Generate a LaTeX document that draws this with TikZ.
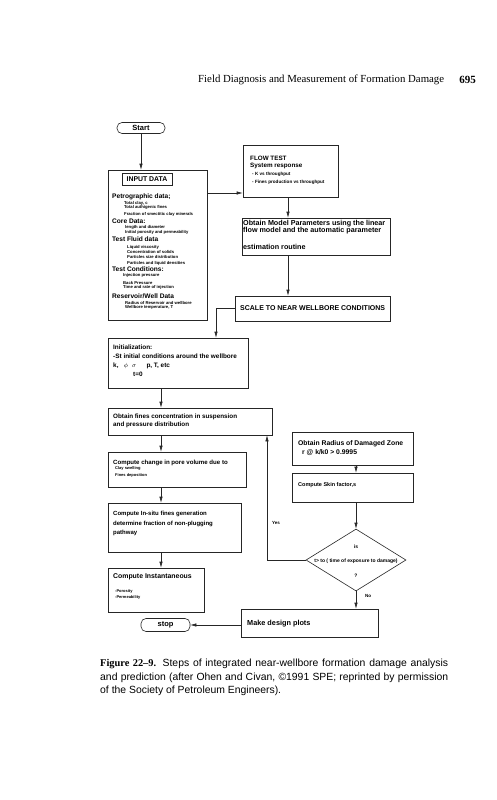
\documentclass[tikz,border=0pt]{standalone}
\usepackage{fontspec}
\setmainfont{Liberation Serif}
\setsansfont{Liberation Sans}
\usetikzlibrary{arrows.meta,shapes.geometric}
\newcommand{\fsz}[2]{\fontsize{#1}{#2}\selectfont\lineskiplimit=-10pt\relax}
\tikzset{
  flowbox/.style={draw=black!85, rectangle, line width=0.6pt, inner sep=0pt},
  termbox/.style={draw=black!85, rectangle, rounded corners=5pt, line width=0.6pt, inner sep=0pt, font=\sffamily\bfseries\fsz{7.5}{9}},
  decision/.style={draw=black!85, diamond, line width=0.6pt, inner sep=0pt},
  boxtext/.style={anchor=west, inner sep=0pt, align=left},
  headtext/.style={boxtext, font=\sffamily\bfseries\fsz{6.6}{8}},
  smalltext/.style={boxtext, font=\sffamily\bfseries\fsz{4.2}{#1}},
  smalltext/.default=4.6,
  flowarrow/.style={-{Latex[length=6pt,width=3.4pt]}, line width=0.6pt, draw=black!85}
}

\begin{document}
\begin{tikzpicture}[x=1pt, y=-1pt]
  \path[fill=white] (0,0) rectangle (496,800);
  \useasboundingbox (0,0) rectangle (496,800);

  % page header
  \node[anchor=west, inner sep=0pt, font=\fsz{10.8}{13}] (header) at (198,80) {Field Diagnosis and Measurement of Formation Damage};
  \node[anchor=east, inner sep=0pt, font=\bfseries\fsz{11}{13}] (pageno) at (476,80) {695};

  % boxes
  \node[termbox, minimum width=48pt, minimum height=11pt] (start) at (141,128) {Start};
  \node[flowbox, minimum width=99pt, minimum height=150pt] (inbox) at (157.5,245) {};
  \node[flowbox, minimum width=50pt, minimum height=12pt, font=\sffamily\bfseries\fsz{6.9}{8}] (inlabel) at (147,179) {INPUT DATA};
  \node[flowbox, minimum width=95pt, minimum height=52pt] (flow) at (290.5,171) {};
  \node[flowbox, minimum width=148pt, minimum height=37pt] (model) at (316,236.5) {};
  \node[flowbox, minimum width=155pt, minimum height=25pt] (scale) at (312.5,308.5) {};
  \node[flowbox, minimum width=140pt, minimum height=50pt] (init) at (178,363) {};
  \node[flowbox, minimum width=164pt, minimum height=27pt] (fines) at (190,421.5) {};
  \node[flowbox, minimum width=138pt, minimum height=35pt] (pore) at (177,469.5) {};
  \node[flowbox, minimum width=133pt, minimum height=49pt] (insitu) at (174.5,527.5) {};
  \node[flowbox, minimum width=96pt, minimum height=44pt] (instant) at (156,590) {};
  \node[termbox, minimum width=49pt, minimum height=13pt] (stop) at (165.5,625) {stop};
  \node[flowbox, minimum width=137pt, minimum height=28pt] (design) at (309.5,623) {};
  \node[flowbox, minimum width=121pt, minimum height=33pt] (radius) at (352.5,448.5) {};
  \node[flowbox, minimum width=121pt, minimum height=29pt] (skin) at (352.5,487.5) {};
  \node[decision, minimum width=100pt, minimum height=62pt] (check) at (356,560) {};

  % input data list
  \node[headtext] (petro) at (112,197.3) {Petrographic data;};
  \node[smalltext=4] (petroitems) at (124,209) {Total clay, c\\Total authigenic fines\\[3.6pt]Fraction of smectitic clay minerals};
  \node[headtext] (core) at (112,221.3) {Core Data:};
  \node[smalltext=5] (coreitems) at (125,229.7) {length and diameter\\Initial porosity and permeability};
  \node[headtext] (fluid) at (112,239.3) {Test Fluid data};
  \node[smalltext=5.3] (fluiditems) at (127,255.2) {Liquid viscosity\\Concentration of solids\\Particles size distribution\\Particles and liquid densities};
  \node[headtext] (cond) at (112,268.8) {Test Conditions:};
  \node[smalltext=4] (conditems) at (123,281.1) {Injection pressure\\[4.2pt]Back Pressure\\Time and rate of injection};
  \node[headtext] (reservoir) at (112,296.3) {Reservoir/Well Data};
  \node[smalltext=4] (resitems) at (125,305.5) {Radius of Reservoir and wellbore\\Wellbore temperature, T};

  % box texts
  \node[boxtext, font=\sffamily\bfseries\fsz{6.3}{7.5}] (flowhead) at (250,162.7) {FLOW TEST\\System response};
  \node[boxtext, font=\sffamily\bfseries\fsz{4.6}{7.8}] (flowitems) at (252,178) {- K vs throughput\\- Fines production vs throughput};
  \node[boxtext, font=\sffamily\bfseries\fsz{7.2}{7.3}] (modeltext) at (243,227.2) {Obtain Model Parameters using the linear\\flow model and the automatic parameter};
  \node[boxtext, font=\sffamily\bfseries\fsz{7.2}{8}] (modelend) at (243,247) {estimation routine};
  \node[boxtext, font=\sffamily\bfseries\fsz{7}{8}] (scaletext) at (240,308.5) {SCALE TO NEAR WELLBORE CONDITIONS};
  \node[boxtext, font=\sffamily\bfseries\fsz{6.4}{9}] (inittext) at (113,361) {Initialization:\\-St initial conditions around the wellbore\\k,\hspace{5pt}$\phi$\hspace{4pt}$\sigma$\hspace{10pt}p, T, etc\\\hspace*{20pt}t=0};
  \node[boxtext, font=\sffamily\bfseries\fsz{6.3}{7.5}] (finestext) at (113,420.7) {Obtain fines concentration in suspension\\and pressure distribution};
  \node[boxtext, font=\sffamily\bfseries\fsz{6.1}{7}] (poretext) at (113,463) {Compute change in pore volume due to};
  \node[boxtext, font=\sffamily\bfseries\fsz{4}{7.5}] (poreitems) at (115,472.2) {Clay swelling\\Fines deposition};
  \node[boxtext, font=\sffamily\bfseries\fsz{6}{9.5}] (insitutext) at (113,523.5) {Compute In-situ fines generation\\determine fraction of non-plugging\\pathway};
  \node[boxtext, font=\sffamily\bfseries\fsz{6.9}{8}] (instanttext) at (113,577) {Compute Instantaneous};
  \node[boxtext, font=\sffamily\bfseries\fsz{4}{6}] (instantitems) at (115,594) {-Porosity\\-Permeability};
  \node[boxtext, font=\sffamily\bfseries\fsz{7.3}{8}] (designtext) at (247,623.5) {Make design plots};
  \node[boxtext, font=\sffamily\bfseries\fsz{6.8}{9}] (radiustext) at (298,448.5) {Obtain Radius of Damaged Zone\\\hspace*{4pt}r @ k/k0 > 0.9995};
  \node[boxtext, font=\sffamily\bfseries\fsz{5.5}{7}] (skintext) at (298,485) {Compute Skin factor,s};
  \node[inner sep=0pt, font=\sffamily\bfseries\fsz{5}{6}] (checkis) at (356,547) {is};
  \node[inner sep=0pt, font=\sffamily\bfseries\fsz{5}{6}] (checktext) at (356,561) {t> to ( time of exposure to damage)};
  \node[inner sep=0pt, font=\sffamily\bfseries\fsz{5}{6}] (checkmark) at (356,576) {?};
  \node[boxtext, font=\sffamily\bfseries\fsz{4.5}{6}] (yes) at (272,523) {Yes};
  \node[boxtext, font=\sffamily\bfseries\fsz{4.5}{6}] (no) at (365,596) {No};

  % arrow columns
  \coordinate (lcol) at (161,0);
  \coordinate (jcol) at (216,0);
  \coordinate (ycol) at (267,0);
  \coordinate (mcol) at (288,0);
  \coordinate (flowin) at (243,193);

  % connectors
  \draw[flowarrow] (start.south) -- (start.south |- inbox.north);
  \draw[flowarrow] (flowin -| inbox.east) -- (flowin -| flow.west);
  \draw[flowarrow] (flow.south -| mcol) -- (model.north -| mcol);
  \draw[flowarrow] (model.south -| mcol) -- (scale.north -| mcol);
  \draw[flowarrow] (scale.west) -| (init.north -| jcol);
  \draw[flowarrow] (init.south -| lcol) -- (fines.north -| lcol);
  \draw[flowarrow] (fines.south -| lcol) -- (pore.north -| lcol);
  \draw[flowarrow] (pore.south -| lcol) -- (insitu.north -| lcol);
  \draw[flowarrow] (insitu.south -| lcol) -- (instant.north -| lcol);
  \draw[flowarrow] (radius.south -| check) -- (skin.north -| check);
  \draw[flowarrow] (skin.south -| check) -- (check.north);
  \draw[flowarrow] (check.south) -- (design.north -| check);
  \draw[flowarrow] (design.west |- stop.east) -- (stop.east);
  \draw[flowarrow] (check.west) -| (fines.south -| ycol);

  % caption
  \node[anchor=north west, inner sep=0pt, text width=348pt, align=justify, font=\sffamily\fsz{10.4}{13.5}] (caption) at (100,659) {{\rmfamily\bfseries Figure 22--9.} Steps of integrated near-wellbore formation damage analysis\linebreak and prediction (after Ohen and Civan, ©1991 SPE; reprinted by permission\linebreak of the Society of Petroleum Engineers).};
\end{tikzpicture}
\end{document}
